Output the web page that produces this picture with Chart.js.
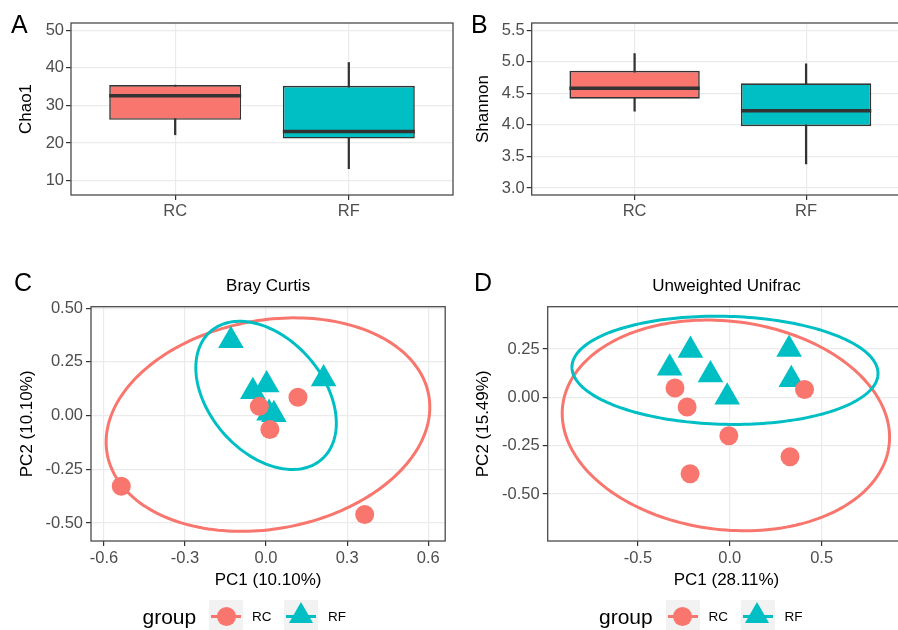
<!DOCTYPE html>
<html lang="en">
<head>
<meta charset="UTF-8">
<title>Alpha / beta diversity RC vs RF</title>
<script src="https://cdn.jsdelivr.net/npm/chart.js"></script>
<style>
  body { margin: 0; background: #fff; font-family: "Liberation Sans", Arial, sans-serif; }
  #page { position: relative; width: 898px; height: 630px; overflow: hidden; }
  canvas { position: absolute; }
  .tag { position: absolute; font-size: 25px; line-height: 25px; color: #000; }
  .leg-title { position: absolute; font-size: 21px; line-height: 21px; color: #000; }
  .leg-key { position: absolute; width: 34px; height: 34px; background: #F2F2F2; }
  .leg-label { position: absolute; font-size: 13.5px; line-height: 13.5px; color: #000; }
</style>
</head>
<body>
<div id="page">
  <canvas id="chartA" width="460" height="232" style="left:0;top:0"></canvas>
  <canvas id="chartB" width="460" height="232" style="left:460px;top:0"></canvas>
  <canvas id="chartC" width="460" height="398" style="left:0;top:232px"></canvas>
  <canvas id="chartD" width="460" height="398" style="left:460px;top:232px"></canvas>

  <div class="tag" style="left:11px;top:12px">A</div>
  <div class="tag" style="left:471px;top:12px">B</div>
  <div class="tag" style="left:14px;top:270px">C</div>
  <div class="tag" style="left:474px;top:270px">D</div>
</div>

<script>
const FONT = '"Liberation Sans", Arial, Helvetica, sans-serif';

const groups = ['RC', 'RF'];
const groupColors = ['#F8766D', '#00BFC4'];
const groupShapes = ['circle', 'triangle'];

// A - Chao1 (whisker low, Q1, median, Q3, whisker high)
const chaoLow = [22.2, 13.2];
const chaoQ1 = [26.2, 21.2];
const chaoMedian = [32.6, 23.1];
const chaoQ3 = [35.4, 35.2];
const chaoHigh = [35.4, 41.4];
const chaoTicks = [10, 20, 30, 40, 50];

// B - Shannon
const shanLow = [4.22, 3.38];
const shanQ1 = [4.416, 3.98];
const shanMedian = [4.58, 4.225];
const shanQ3 = [4.857, 4.66];
const shanHigh = [5.13, 4.97];
const shanTicks = [3.0, 3.5, 4.0, 4.5, 5.0, 5.5];

// C - Bray Curtis PCoA
const brayRcX = [-0.536, 0.365, 0.118, 0.014, -0.025];
const brayRcY = [-0.329, -0.461, 0.085, -0.065, 0.043];
const brayRfX = [-0.13, 0.213, -0.049, 0.002, 0.011, 0.029];
const brayRfY = [0.349, 0.171, 0.112, 0.143, 0.011, 0.005];
const brayXTicks = [-0.6, -0.3, 0, 0.3, 0.6];
const brayYTicks = [-0.5, -0.25, 0, 0.25, 0.5];
// ellipses: centre, half width, half height, phase of y (deg)
const brayEllCx = [0.007, 0.0];
const brayEllCy = [-0.042, 0.094];
const brayEllRx = [0.599, 0.26];
const brayEllRy = [0.497, 0.345];
const brayEllPhase = [80.6, 112];

// D - Unweighted Unifrac PCoA
const unifracRcX = [-0.298, -0.232, 0.407, -0.005, 0.328, -0.216];
const unifracRcY = [0.048, -0.05, 0.041, -0.199, -0.307, -0.395];
const unifracRfX = [-0.214, -0.327, -0.105, -0.014, 0.323, 0.335];
const unifracRfY = [0.243, 0.152, 0.117, 0.001, 0.249, 0.092];
const unifracXTicks = [-0.5, 0, 0.5];
const unifracYTicks = [-0.5, -0.25, 0, 0.25];
const unifracEllCx = [-0.021, -0.026];
const unifracEllCy = [-0.145, 0.14];
const unifracEllRx = [0.891, 0.833];
const unifracEllRy = [0.545, 0.28];
const unifracEllPhase = [96.5, 93.3];

// panel border
const frame = {
    id: 'frame',
    afterDraw(chart) {
        const { ctx, chartArea: a } = chart;
        ctx.save();
        ctx.strokeStyle = '#4a4a4a';
        ctx.lineWidth = 1.3;
        ctx.strokeRect(a.left, a.top, a.right - a.left, a.bottom - a.top);
        ctx.restore();
    }
};

// median line across each box
const medians = {
    id: 'medians',
    afterDatasetsDraw(chart, args, opts) {
        const meta = chart.getDatasetMeta(1);
        const y = chart.scales.y;
        const ctx = chart.ctx;
        ctx.save();
        ctx.strokeStyle = '#333';
        ctx.lineWidth = 3.5;
        meta.data.forEach((bar, i) => {
            const py = y.getPixelForValue(opts.values[i]);
            ctx.beginPath();
            ctx.moveTo(bar.x - bar.width / 2, py);
            ctx.lineTo(bar.x + bar.width / 2, py);
            ctx.stroke();
        });
        ctx.restore();
    }
};

// group ellipses, drawn under the points
const ellipses = {
    id: 'ellipses',
    beforeDatasetsDraw(chart, args, opts) {
        const { ctx, chartArea: a, scales: { x, y } } = chart;
        ctx.save();
        ctx.beginPath();
        ctx.rect(a.left, a.top, a.right - a.left, a.bottom - a.top);
        ctx.clip();
        ctx.lineWidth = 3;
        opts.cx.forEach((cx, i) => {
            const ph = opts.phase[i] * Math.PI / 180;
            ctx.strokeStyle = groupColors[i];
            ctx.beginPath();
            for (let k = 0; k <= 200; k++) {
                const t = k / 200 * 2 * Math.PI;
                const px = x.getPixelForValue(cx + opts.rx[i] * Math.cos(t));
                const py = y.getPixelForValue(opts.cy[i] + opts.ry[i] * Math.cos(t - ph));
                if (k === 0) ctx.moveTo(px, py); else ctx.lineTo(px, py);
            }
            ctx.closePath();
            ctx.stroke();
        });
        ctx.restore();
    }
};

function makeAxis(o) {
    return {
        type: 'linear',
        min: o.min,
        max: o.max,
        offset: false,
        afterBuildTicks: (s) => { s.ticks = o.ticks.map(v => ({ value: v })); },
        afterFit: (s) => { if (o.horizontal) s.height = o.size; else s.width = o.size; },
        ticks: {
            callback: o.fmt,
            color: '#4D4D4D',
            font: { family: FONT, size: 16.5 },
            padding: o.tickPad,
            autoSkip: false,
            maxRotation: 0
        },
        grid: {
            offset: false,
            color: '#EBEBEB',
            lineWidth: 1.2,
            tickColor: '#333',
            tickLength: 5,
            tickWidth: 1.2
        },
        border: { display: false },
        title: {
            display: !!o.title,
            text: o.title,
            color: '#000',
            font: { family: FONT, size: 17 },
            padding: o.titlePad
        }
    };
}

function boxChart(id, low, q1, med, q3, high, yTicks, yMin, yMax, yTitle, fmt, yWidth, titleTop, padRight) {
    new Chart(document.getElementById(id), {
        type: 'bar',
        data: {
            datasets: [
                {
                    label: 'whisker',
                    data: groups.map((g, i) => ({ x: i + 1, y: [low[i], high[i]] })),
                    backgroundColor: '#333',
                    barThickness: 1.6,
                    grouped: false,
                    order: 2
                },
                {
                    label: 'box',
                    data: groups.map((g, i) => ({ x: i + 1, y: [q1[i], q3[i]] })),
                    backgroundColor: groupColors,
                    borderColor: '#333',
                    borderWidth: 1.6,
                    borderSkipped: false,
                    categoryPercentage: 1,
                    barPercentage: 0.76,
                    grouped: false,
                    order: 1
                }
            ]
        },
        options: {
            responsive: false,
            animation: false,
            events: [],
            layout: { padding: { left: 0, top: 23, right: padRight, bottom: 0 } },
            scales: {
                x: makeAxis({ horizontal: true, min: 0.4, max: 2.6, ticks: [1, 2], fmt: v => groups[v - 1],
                    size: 37, tickPad: 2 }),
                y: makeAxis({ min: yMin, max: yMax, ticks: yTicks, fmt: fmt, size: yWidth, tickPad: 2,
                    title: yTitle, titlePad: { top: titleTop, bottom: 0 } })
            },
            plugins: {
                legend: { display: false },
                tooltip: { enabled: false },
                medians: { values: med }
            }
        },
        plugins: [medians, frame]
    });
}

function pcoaChart(id, rcX, rcY, rfX, rfY, ell, xTicks, yTicks, xLim, yLim, xFmt, yFmt,
                   title, xTitle, yTitle, yWidth, yTitleTop, padRight) {
    new Chart(document.getElementById(id), {
        type: 'scatter',
        data: {
            datasets: [
                {
                    label: groups[0],
                    data: rcX.map((v, i) => ({ x: v, y: rcY[i] })),
                    pointStyle: groupShapes[0],
                    pointRadius: 9.5,
                    backgroundColor: groupColors[0],
                    borderWidth: 0
                },
                {
                    label: groups[1],
                    data: rfX.map((v, i) => ({ x: v, y: rfY[i] })),
                    pointStyle: groupShapes[1],
                    pointRadius: 14.8,
                    backgroundColor: groupColors[1],
                    borderWidth: 0
                }
            ]
        },
        options: {
            responsive: false,
            animation: false,
            events: [],
            layout: { padding: { left: 0, top: 0, right: padRight, bottom: 39 } },
            scales: {
                x: makeAxis({ horizontal: true, min: xLim[0], max: xLim[1], ticks: xTicks, fmt: xFmt,
                    size: 50, tickPad: 2.5, title: xTitle, titlePad: { top: 0, bottom: 0.5 } }),
                y: makeAxis({ min: yLim[0], max: yLim[1], ticks: yTicks, fmt: yFmt, size: yWidth, tickPad: 3,
                    title: yTitle, titlePad: { top: yTitleTop, bottom: 0 } })
            },
            plugins: {
                legend: { display: false },
                tooltip: { enabled: false },
                title: {
                    display: true,
                    text: title,
                    fullSize: false,
                    color: '#000',
                    font: { family: FONT, size: 17, weight: 'normal' },
                    padding: { top: 43.8, bottom: 10.5 }
                },
                ellipses: ell
            }
        },
        plugins: [ellipses, frame]
    });
}

boxChart('chartA', chaoLow, chaoQ1, chaoMedian, chaoQ3, chaoHigh, chaoTicks, 6.2, 51.9,
    'Chao1', v => v.toFixed(0), 71, 15.8, 7);
boxChart('chartB', shanLow, shanQ1, shanMedian, shanQ3, shanHigh, shanTicks, 2.889, 5.616,
    'Shannon', v => v.toFixed(1), 71.7, 12.8, 11);

pcoaChart('chartC', brayRcX, brayRcY, brayRfX, brayRfY,
    { cx: brayEllCx, cy: brayEllCy, rx: brayEllRx, ry: brayEllRy, phase: brayEllPhase },
    brayXTicks, brayYTicks, [-0.648, 0.663], [-0.584, 0.507],
    v => v.toFixed(1), v => v.toFixed(2),
    'Bray Curtis', 'PC1 (10.10%)', 'PC2 (10.10%)', 91, 16.8, 7);
pcoaChart('chartD', unifracRcX, unifracRcY, unifracRfX, unifracRfY,
    { cx: unifracEllCx, cy: unifracEllCy, rx: unifracEllRx, ry: unifracEllRy, phase: unifracEllPhase },
    unifracXTicks, unifracYTicks, [-0.991, 0.955], [-0.743, 0.469],
    v => v.toFixed(1), v => v.toFixed(2),
    'Unweighted Unifrac', 'PC1 (28.11%)', 'PC2 (15.49%)', 87.7, 12.8, 9);

// ggplot-style legends under the two PCoA panels
function addLegend(offsetX) {
    const page = document.getElementById('page');
    const title = document.createElement('div');
    title.className = 'leg-title';
    title.textContent = 'group';
    title.style.left = (142.5 + offsetX) + 'px';
    title.style.top = '605.5px';
    page.appendChild(title);

    const keyLeft = [209, 284];
    const labelLeft = [252, 328];
    groups.forEach((g, i) => {
        const key = document.createElement('div');
        key.className = 'leg-key';
        key.style.left = (keyLeft[i] + offsetX) + 'px';
        key.style.top = '600px';
        const line = document.createElement('div');
        line.style.cssText = 'position:absolute;left:2px;width:30px;top:14.5px;height:3px;background:' + groupColors[i];
        key.appendChild(line);
        const mark = document.createElement('div');
        if (groupShapes[i] === 'circle') {
            mark.style.cssText = 'position:absolute;left:7.5px;top:6.5px;width:19px;height:19px;border-radius:50%;background:' + groupColors[i];
        } else {
            mark.style.cssText = 'position:absolute;left:4.5px;top:1.7px;width:0;height:0;border-left:12.5px solid transparent;border-right:12.5px solid transparent;border-bottom:21.6px solid ' + groupColors[i];
        }
        key.appendChild(mark);
        page.appendChild(key);

        const lab = document.createElement('div');
        lab.className = 'leg-label';
        lab.textContent = g;
        lab.style.left = (labelLeft[i] + offsetX) + 'px';
        lab.style.top = '610.3px';
        page.appendChild(lab);
    });
}
addLegend(0);
addLegend(456.5);
</script>
</body>
</html>
